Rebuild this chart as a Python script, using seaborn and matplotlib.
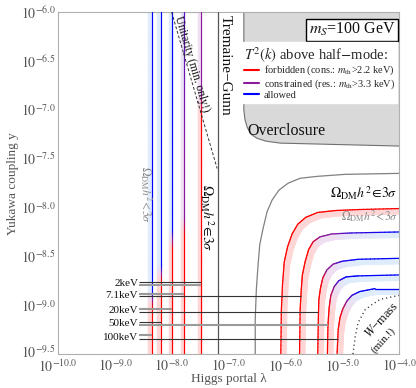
import numpy as np
import matplotlib
matplotlib.use("Agg")
import matplotlib.pyplot as plt
import matplotlib.transforms as mtransforms
from matplotlib.collections import LineCollection
from matplotlib.colors import LinearSegmentedColormap
from matplotlib.lines import Line2D
import pandas as pd
import seaborn as sns

# ---- data (log10 of Higgs portal lambda, log10 of Yukawa coupling y) ----
x_ticks = [-10.0, -9.0, -8.0, -7.0, -6.0, -5.0, -4.0]
y_ticks = [-6.0, -6.5, -7.0, -7.5, -8.0, -8.5, -9.0, -9.5]

masses = ["2keV", "7.1keV", "20keV", "50keV", "100keV"]

# relic-abundance contours at large lambda (status: 0 forbidden, 1 constrained, 2 allowed)
curve_2_x = [-6.08, -6.07, -6.05, -6.02, -5.96, -5.88, -5.78, -5.64, -5.43, -5.11, -4.69, -4.0]
curve_2_y = [-9.5, -9.05, -8.79, -8.56, -8.40, -8.27, -8.17, -8.10, -8.05, -8.03, -8.02, -8.01]
curve_2_s = [0, 0, 0, 0, 0, 0, 0, 0, 0, 0, 0, 0]

curve_7_x = [-5.75, -5.74, -5.72, -5.70, -5.65, -5.59, -5.51, -5.39, -5.18, -4.83, -4.0]
curve_7_y = [-9.5, -9.05, -8.84, -8.69, -8.55, -8.43, -8.35, -8.30, -8.27, -8.26, -8.25]
curve_7_s = [0, 0, 0, 0, 0, 0, 0.3, 1, 1, 1.6, 2]

curve_20_x = [-5.43, -5.42, -5.41, -5.38, -5.34, -5.27, -5.16, -5.00, -4.72, -4.0]
curve_20_y = [-9.5, -9.15, -8.94, -8.82, -8.72, -8.64, -8.58, -8.55, -8.53, -8.52]
curve_20_s = [0, 0, 0, 0, 0.3, 1, 1, 1.7, 2, 2]

curve_50_x = [-5.26, -5.25, -5.23, -5.20, -5.14, -5.06, -4.93, -4.72, -4.0]
curve_50_y = [-9.5, -9.20, -9.03, -8.90, -8.81, -8.75, -8.71, -8.70, -8.69]
curve_50_s = [0, 0, 0, 0.5, 1, 1.5, 2, 2, 2]

curve_100_x = [-5.09, -5.07, -5.04, -4.99, -4.92, -4.83, -4.69, -4.42, -4.0]
curve_100_y = [-9.5, -9.25, -9.13, -9.04, -8.96, -8.90, -8.86, -8.83, -8.83]
curve_100_s = [0, 0, 0, 0.4, 1, 1.5, 2, 2, 2]

# relic-abundance contours at small lambda (vertical), status breakpoints along y
vert_lam = [-7.48, -7.78, -7.99, -8.19, -8.35]
vert_y = [[-6.0, -6.85, -7.05, -9.5],
          [-6.0, -7.6, -8.1, -8.3, -9.5],
          [-6.0, -8.23, -8.43, -9.5],
          [-6.0, -8.59, -8.76, -9.5],
          [-6.0, -8.86, -9.02, -9.5]]
vert_s = [[1, 1, 0, 0],
          [1.4, 1, 1, 0, 0],
          [2, 2, 0, 0],
          [2, 2, 0, 0],
          [2, 2, 0, 0]]

# outer relic boundary (grey)
omega_x = [-6.53, -6.53, -6.51, -6.48, -6.45, -6.39, -6.32, -6.23, -6.11, -5.95, -5.74, -5.43, -4.95, -4.0]
omega_y = [-9.5, -9.15, -8.84, -8.59, -8.38, -8.21, -8.04, -7.92, -7.82, -7.75, -7.70, -7.68, -7.66, -7.65]

# overclosure boundary
oc_x = [-6.73, -6.73, -6.71, -6.67, -6.60, -6.50, -6.34, -6.09, -5.39, -4.0]
oc_y = [-6.0, -7.0, -7.10, -7.18, -7.25, -7.29, -7.32, -7.34, -7.35, -7.37]

# Tremaine-Gunn bound
tg_lam = -7.19

# unitarity (dashed)
unit_x = [-8.0, -7.2]
unit_y = [-6.0, -7.6]

# W-mass bound (dotted)
w_x = [-4.81, -4.77, -4.72, -4.60, -4.49, -4.33, -4.0]
w_y = [-9.50, -9.32, -9.18, -9.05, -9.00, -8.94, -8.90]

# mass labels and their pointer lines
label_y = [-8.775, -8.90, -9.05, -9.185, -9.33]
upper_y = [-8.76, -8.89, -9.04, -9.17, -9.31]
lower_y = [-8.79, -8.91, -9.065, -9.20, -9.345]
upper_end = [-7.48, -7.78, -7.99, -8.19, -8.35]
lower_end = [-7.48, -5.73, -5.42, -5.25, -5.08]
upper_grey = [False, True, True, False, True]
line_start = -8.575

# ---- style ----
sns.set_theme(style="white")
plt.rcParams["font.family"] = ["Liberation Serif", "DejaVu Serif"]
plt.rcParams["mathtext.fontset"] = "stix"

W, H = 416, 388
fig = plt.figure(figsize=(W / 100, H / 100), dpi=100)
ax = fig.add_axes([58 / W, 1 - 354 / H, 341 / W, (354 - 12.3) / H])
ax.set_xlim(-10, -4)
ax.set_ylim(-9.5, -6)

line_cmap = LinearSegmentedColormap.from_list("status", ["#ff0000", "#8c1a9c", "#0000ff"])
band_cmap = LinearSegmentedColormap.from_list("band", ["#ffd6d6", "#efdff3", "#dfecfb"])


def colored(xs, ys, st, lw, cmap, transform, z, sub=10):
    segs, vals = [], []
    for i in range(len(xs) - 1):
        t = np.linspace(0, 1, sub + 1)
        px = xs[i] + (xs[i + 1] - xs[i]) * t
        py = ys[i] + (ys[i + 1] - ys[i]) * t
        pv = st[i] + (st[i + 1] - st[i]) * t
        for j in range(sub):
            segs.append([(px[j], py[j]), (px[j + 1], py[j + 1])])
            vals.append(0.5 * (pv[j] + pv[j + 1]) / 2.0)
    lc = LineCollection(segs, colors=cmap(np.array(vals)), linewidths=lw,
                        transform=transform, zorder=z, capstyle="round")
    ax.add_collection(lc)


# overclosure region
poly_x = oc_x + [-4.0, -6.73]
poly_y = oc_y + [-6.0, -6.0]
ax.fill(poly_x, poly_y, color="#d9d9d9", zorder=1, lw=0)
sns.lineplot(x=oc_x, y=oc_y, sort=False, estimator=None, color="#707070", lw=0.8, ax=ax, zorder=1.5)

band_curve = mtransforms.offset_copy(ax.transData, fig=fig, x=3, y=-3, units="dots")
band_vert = mtransforms.offset_copy(ax.transData, fig=fig, x=-1.5, y=0, units="dots")

curves = [(curve_2_x, curve_2_y, curve_2_s), (curve_7_x, curve_7_y, curve_7_s),
          (curve_20_x, curve_20_y, curve_20_s), (curve_50_x, curve_50_y, curve_50_s),
          (curve_100_x, curve_100_y, curve_100_s)]
for cx, cy, cs in curves:
    colored(cx, cy, cs, 4.3, band_cmap, band_curve, 2)
    colored(cx, cy, cs, 0.9, line_cmap, ax.transData, 3)

for lam, vy, vs in zip(vert_lam, vert_y, vert_s):
    xs = [lam] * len(vy)
    colored(xs, vy, vs, 3.2, band_cmap, band_vert, 2)
    colored(xs, vy, vs, 0.85, line_cmap, ax.transData, 3)

# grey relic boundary, Tremaine-Gunn, unitarity, W mass
sns.lineplot(x=omega_x, y=omega_y, sort=False, estimator=None, color="#808080", lw=0.9, ax=ax, zorder=3)
tg = pd.DataFrame({"x": [tg_lam, tg_lam], "y": [-9.5, -6.0]})
sns.lineplot(data=tg, x="x", y="y", sort=False, estimator=None, color="#555555", lw=0.9, ax=ax, zorder=3)
sns.lineplot(x=unit_x, y=unit_y, sort=False, estimator=None, color="#333333", lw=0.7,
             ax=ax, zorder=3).lines[-1].set_dashes([3, 2])
wl = sns.lineplot(x=w_x, y=w_y, sort=False, estimator=None, color="#333333", lw=1.0, ax=ax, zorder=3)
wl.lines[-1].set_dashes([0.8, 2.2])

# mass labels with pointer lines
for name, ty, uy, ly, ue, le, ug in zip(masses, label_y, upper_y, lower_y, upper_end, lower_end, upper_grey):
    ax.text(line_start - 0.015, ty, name, ha="right", va="center", fontsize=8, color="#111111", zorder=6)
    for yy, xe, grey in ((uy, ue, ug), (ly, le, not ug)):
        if grey:
            ax.plot([line_start, xe], [yy, yy], color="#9a9a9a", lw=1.5, zorder=4, solid_capstyle="butt")
        else:
            ax.plot([line_start, xe], [yy, yy], color="#333333", lw=0.8, zorder=4.5, solid_capstyle="butt")

# annotations
ax.text(-7.05, -6.54, "Tremaine\u2212Gunn", rotation=-90, ha="center", va="center", fontsize=11, color="#111111")
ax.text(-7.38, -8.10, r"$\Omega_{\rm DM}h^2\!\in\!3\sigma$", rotation=-90, ha="center", va="center",
        fontsize=10, color="#111111")
ax.text(-8.45, -7.87, r"$\Omega_{\rm DM}h^2\!<\!3\sigma$", rotation=-90, ha="center", va="center",
        fontsize=8.5, color="#8a8a8a")
ax.text(-4.03, -7.85, r"$\Omega_{\rm DM}h^2\!\in\!3\sigma$", ha="right", va="center", fontsize=10, color="#111111", zorder=6)
ax.text(-4.02, -8.085, r"$\Omega_{\rm DM}h^2\!<\!3\sigma$", ha="right", va="center", fontsize=8.5, color="#8a8a8a", zorder=6)
ax.text(-6.66, -7.215, "Overclosure", ha="left", va="center", fontsize=11.5, color="#111111")
ax.text(-7.64, -6.53, "Unitarity (min. only!)", rotation=-73.6, rotation_mode="anchor",
        ha="center", va="center", fontsize=8.3, color="#111111")
ax.text(-4.30, -9.15, r"$W$" + "\u2212mass", rotation=48, rotation_mode="anchor",
        ha="center", va="center", fontsize=9, color="#111111")
ax.text(-4.27, -9.355, "(min.!)", rotation=48, rotation_mode="anchor",
        ha="center", va="center", fontsize=8, color="#111111")

ax.text(0.99, 0.949, r"$m_S$=100 GeV", transform=ax.transAxes, ha="right", va="center", fontsize=11.5,
        color="#111111", zorder=8,
        bbox=dict(boxstyle="square,pad=0.15", facecolor="white", edgecolor="black", lw=1.0))

handles = [Line2D([], [], color="#ff0000", lw=1.5),
           Line2D([], [], color="#8c1a9c", lw=1.5),
           Line2D([], [], color="#0000ff", lw=1.5)]
labels = [r"forbidden (cons.: $m_{\rm th}$>2.2 keV)",
          r"constrained (res.: $m_{\rm th}$>3.3 keV)",
          "allowed"]
leg = ax.legend(handles, labels, title=r"$T^2(k)$ above half$-$mode:", loc="upper left",
                bbox_to_anchor=(0.537, 0.912), fontsize=7.5, title_fontsize=10.5, frameon=True,
                fancybox=False, edgecolor="white", facecolor="white", framealpha=1,
                handlelength=1.5, handleheight=0.6, handletextpad=0.4, borderpad=0.25,
                labelspacing=0.0, borderaxespad=0, alignment="left")
leg.set_zorder(9)

# axes cosmetics
ax.set_xticks(x_ticks)
ax.set_xticklabels([r"$10^{%.1f}$" % v for v in x_ticks])
ax.set_yticks(y_ticks)
ax.set_yticklabels([r"$10^{%.1f}$" % v for v in y_ticks])
ax.tick_params(axis="both", labelsize=10, colors="#555555", length=0)
ax.tick_params(axis="x", pad=3)
ax.tick_params(axis="y", pad=2)
# lift the lowest y label a touch so it clears the first x label
low = ax.get_yticklabels()[-1]
low.set_transform(low.get_transform() + mtransforms.ScaledTranslation(0, 3 / 100, fig.dpi_scale_trans))
for sp in ax.spines.values():
    sp.set_color("#b0b0b0")
    sp.set_linewidth(0.8)
ax.set_xlabel("Higgs portal \u03bb", fontsize=9.5, color="#555555", labelpad=-1.5)
ax.set_ylabel("Yukawa coupling y", fontsize=9.5, color="#555555", labelpad=1)

fig.savefig("out.png", dpi=100)
